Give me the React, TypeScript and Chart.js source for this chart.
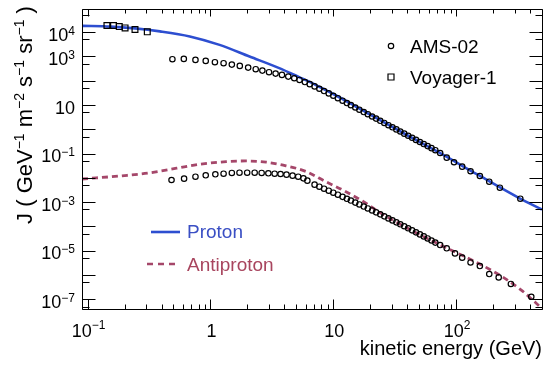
import React, { useEffect, useRef } from "react";
import { Chart, registerables } from "chart.js";

Chart.register(...registerables);

// ---------------- data ----------------
const voyagerEnergy = [0.1436, 0.1625, 0.181, 0.2018, 0.243, 0.306];
const voyagerFlux = [1.87e4, 1.87e4, 1.7e4, 1.5e4, 1.28e4, 1.03e4];

const amsProtonEnergy = [
  0.49, 0.607, 0.755, 0.915, 1.087, 1.279, 1.493, 1.733, 2.027, 2.336, 2.646, 2.998, 3.39, 3.82, 4.3, 4.81,
  5.31, 5.87, 6.43, 7.04, 7.7, 8.41, 9.18, 10.0, 10.9, 11.9, 12.9, 13.9, 15.1, 16.3, 17.7, 19.1, 20.7, 22.3,
  24.1, 26.0, 28.1, 30.3, 32.6, 35.1, 37.8, 40.7, 43.8, 47.1, 50.7, 54.5, 58.6, 63.0, 67.7, 74.1, 83.8, 96.1,
  112, 131, 156, 186, 227, 333,
];
const amsProtonFlux = [
  773, 794, 723, 657, 581, 528, 463, 409, 348, 299, 262, 225, 197, 174, 148, 127, 108, 88.4, 72.3, 58.4, 46.9,
  37.6, 30.1, 24.1, 19.1, 15.1, 12.1, 9.91, 7.92, 6.44, 5.15, 4.2, 3.38, 2.77, 2.24, 1.83, 1.48, 1.21, 0.991,
  0.812, 0.665, 0.545, 0.447, 0.367, 0.301, 0.248, 0.204, 0.168, 0.138, 0.106, 0.0681, 0.044, 0.029, 0.01875,
  0.012, 0.00698, 0.00395, 0.00139,
];

const amsAntiprotonEnergy = [
  0.482, 0.61, 0.755, 0.915, 1.096, 1.279, 1.493, 1.723, 1.99, 2.29, 2.61, 2.96, 3.33, 3.72, 4.16, 4.66, 5.18,
  5.71, 6.15, 7.04, 7.7, 8.41, 9.18, 10.0, 10.9, 11.9, 12.9, 13.9, 15.1, 16.3, 17.7, 19.1, 20.7, 22.3, 24.1,
  26.0, 28.1, 30.3, 32.6, 35.1, 37.8, 40.7, 43.8, 47.1, 50.7, 54.5, 58.6, 63.0, 67.7, 74.1, 83.8, 97.9, 112,
  131, 156, 186, 222, 279, 409,
];
const amsAntiprotonFlux = [
  8.2e-3, 9.3e-3, 0.0112, 0.0128, 0.0141, 0.0149, 0.016, 0.0164, 0.0164, 0.0164, 0.016, 0.0155, 0.0149, 0.0145,
  0.0136, 0.0124, 0.0112, 9.6e-3, 7.7e-3, 5.27e-3, 4.35e-3, 3.6e-3, 2.97e-3, 2.46e-3, 2.03e-3, 1.66e-3, 1.38e-3,
  1.17e-3, 9.62e-4, 8.05e-4, 6.62e-4, 5.53e-4, 4.56e-4, 3.81e-4, 3.15e-4, 2.61e-4, 2.15e-4, 1.78e-4, 1.48e-4,
  1.23e-4, 1.02e-4, 8.4e-5, 6.94e-5, 5.74e-5, 4.72e-5, 3.9e-5, 3.21e-5, 2.64e-5, 2.17e-5, 1.72e-5, 1.26e-5,
  7.8e-6, 5.2e-6, 3.3e-6, 2.35e-6, 1.1e-6, 8.0e-7, 4.3e-7, 1.28e-7,
];

const protonModelEnergy = [0.09, 0.153, 0.243, 0.388, 0.679, 1.187, 2.08, 3.63, 5.27, 6.36, 8.0, 10, 14, 20, 40, 71.8, 150, 329, 500];
const protonModelFlux = [1.82e4, 1.7e4, 1.43e4, 1.08e4, 6.7e3, 3.0e3, 990, 330, 141, 92, 51, 28.5, 11.2, 4.0, 0.57, 0.115, 0.0135, 1.44e-3, 5.0e-4];

const antiprotonModelEnergy = [0.09, 0.2, 0.322, 0.53, 0.818, 1.345, 1.953, 2.84, 4.12, 5.98, 8.68, 12.2, 17.1, 25, 40, 74.1, 161, 249, 339, 436, 500];
const antiprotonModelFlux = [9.0e-3, 0.0125, 0.0162, 0.025, 0.0365, 0.0466, 0.0498, 0.0445, 0.0315, 0.0185, 7.0e-3, 3.0e-3, 1.15e-3, 3.3e-4, 8.6e-5, 1.75e-5, 2.6e-6, 7.3e-7, 2.4e-7, 7.9e-8, 4.2e-8];

const xTickValues = [0.1, 1, 10, 100];
const xTickBase = ["10", "1", "10", "10"];
const xTickExp = ["−1", "", "", "2"];
const yTickValues = [1e4, 1e3, 10, 1e-1, 1e-3, 1e-5, 1e-7];
const yTickBase = ["10", "10", "10", "10", "10", "10", "10"];
const yTickExp = ["4", "3", "", "−1", "−3", "−5", "−7"];

const xTitle = "kinetic energy (GeV)";
const yTitleParts: [string, boolean][] = [
  ["J ( GeV", false], ["−1", true], [" m", false], ["−2", true], [" s", false], ["−1", true], [" sr", false], ["−1", true], [" )", false],
];

const seriesNames = ["AMS-02", "Voyager-1", "Proton", "Antiproton"];

const FONT = '"Liberation Sans", Arial, sans-serif';
const BLUE = "#2d4ed0";
const ROSE = "#a5476a";

const pts = (xs: number[], ys: number[]) => xs.map((x, i) => ({ x, y: ys[i] }));

function drawSupLabel(
  ctx: CanvasRenderingContext2D, x: number, y: number, base: string, sup: string,
  align: "right" | "center" | "left", baseSize: number, supSize: number, raise: number
) {
  ctx.font = `${baseSize}px ${FONT}`;
  const wb = ctx.measureText(base).width;
  ctx.font = `${supSize}px ${FONT}`;
  const ws = sup ? ctx.measureText(sup).width : 0;
  const total = wb + ws;
  let start = x;
  if (align === "right") start = x - total;
  else if (align === "center") start = x - total / 2;
  ctx.textAlign = "left";
  ctx.textBaseline = "alphabetic";
  ctx.font = `${baseSize}px ${FONT}`;
  ctx.fillText(base, start, y);
  if (sup) {
    ctx.font = `${supSize}px ${FONT}`;
    ctx.fillText(sup, start + wb, y - raise);
  }
}

const framePlugin = {
  id: "rootFrame",
  afterDraw(chart: any) {
    const { ctx, chartArea: a, scales } = chart;
    const xs = scales.x;
    const ys = scales.y;
    const L = Math.round(a.left) + 0.5;
    const R = Math.round(a.right) + 0.5;
    const T = Math.round(a.top) + 0.5;
    const B = Math.round(a.bottom) + 0.5;
    ctx.save();
    ctx.strokeStyle = "#000";
    ctx.lineWidth = 1;
    ctx.beginPath();
    ctx.rect(L, T, R - L, B - T);
    // x ticks (inward, bottom and top)
    for (let d = -2; d <= 3; d++) {
      for (let m = 1; m <= 9; m++) {
        const v = m * Math.pow(10, d);
        if (v < xs.min || v > xs.max) continue;
        const px = Math.round(xs.getPixelForValue(v)) + 0.5;
        const lb = m === 1 ? 10 : 5;
        const lt = m === 1 ? 7 : 4;
        ctx.moveTo(px, B);
        ctx.lineTo(px, B - lb);
        ctx.moveTo(px, T);
        ctx.lineTo(px, T + lt);
      }
    }
    // y ticks (inward, left and right)
    for (let d = -9; d <= 5; d++) {
      for (const m of [1, 5]) {
        const v = m * Math.pow(10, d);
        if (v < ys.min || v > ys.max) continue;
        const py = Math.round(ys.getPixelForValue(v)) + 0.5;
        const len = m === 1 ? 13 : 7;
        ctx.moveTo(L, py);
        ctx.lineTo(L + len, py);
        ctx.moveTo(R, py);
        ctx.lineTo(R - len, py);
      }
    }
    ctx.stroke();

    // tick labels
    ctx.fillStyle = "#000";
    xTickValues.forEach((v, i) => {
      const px = xs.getPixelForValue(v);
      drawSupLabel(ctx, px + 1, 337, xTickBase[i], xTickExp[i], "center", 18, 12, 8);
    });
    yTickValues.forEach((v, i) => {
      const py = ys.getPixelForValue(v);
      drawSupLabel(ctx, 75, py + 8.5, yTickBase[i], yTickExp[i], "right", 18, 12, 6);
    });

    // x title
    ctx.font = `20px ${FONT}`;
    ctx.textAlign = "right";
    ctx.textBaseline = "alphabetic";
    ctx.fillText(xTitle, a.right, 355);

    // y title (rotated)
    ctx.save();
    ctx.translate(32, 115);
    ctx.rotate(-Math.PI / 2);
    let total = 0;
    const widths = yTitleParts.map(([t, s]) => {
      ctx.font = `${s ? 14 : 22}px ${FONT}`;
      const w = ctx.measureText(t).width;
      total += w;
      return w;
    });
    let cx = -total / 2;
    ctx.textAlign = "left";
    yTitleParts.forEach(([t, s], i) => {
      ctx.font = `${s ? 14 : 22}px ${FONT}`;
      ctx.fillText(t, cx, s ? -8 : 0);
      cx += widths[i];
    });
    ctx.restore();

    // legend: markers
    ctx.font = `19px ${FONT}`;
    ctx.textAlign = "left";
    ctx.fillStyle = "#000";
    ctx.lineWidth = 1.2;
    ctx.beginPath();
    ctx.arc(391, 46, 2.7, 0, Math.PI * 2);
    ctx.stroke();
    ctx.fillText(seriesNames[0], 410, 53);
    ctx.beginPath();
    ctx.rect(388, 74, 6, 6);
    ctx.stroke();
    ctx.fillText(seriesNames[1], 410, 84);

    // legend: curves
    ctx.strokeStyle = BLUE;
    ctx.lineWidth = 2.6;
    ctx.beginPath();
    ctx.moveTo(151, 232);
    ctx.lineTo(180, 232);
    ctx.stroke();
    ctx.fillStyle = "#3a4fc4";
    ctx.fillText(seriesNames[2], 187, 238);
    ctx.strokeStyle = ROSE;
    ctx.setLineDash([6, 5]);
    ctx.beginPath();
    ctx.moveTo(147, 264);
    ctx.lineTo(177, 264);
    ctx.stroke();
    ctx.setLineDash([]);
    ctx.fillStyle = "#a8455e";
    ctx.fillText(seriesNames[3], 187, 271);
    ctx.restore();
  },
};

export default function App() {
  const ref = useRef<HTMLCanvasElement | null>(null);
  useEffect(() => {
    document.body.style.margin = "0";
    const canvas = ref.current;
    if (!canvas) return;
    const chart = new Chart(canvas, {
      type: "line",
      data: {
        datasets: [
          {
            label: seriesNames[0] + " p",
            data: pts(amsProtonEnergy, amsProtonFlux),
            showLine: false,
            pointStyle: "circle",
            pointRadius: 2.7,
            pointBorderWidth: 1.2,
            pointBorderColor: "#000",
            pointBackgroundColor: "rgba(0,0,0,0)",
            order: 0,
          },
          {
            label: seriesNames[0] + " pbar",
            data: pts(amsAntiprotonEnergy, amsAntiprotonFlux),
            showLine: false,
            pointStyle: "circle",
            pointRadius: 2.7,
            pointBorderWidth: 1.2,
            pointBorderColor: "#000",
            pointBackgroundColor: "rgba(0,0,0,0)",
            order: 0,
          },
          {
            label: seriesNames[1],
            data: pts(voyagerEnergy, voyagerFlux),
            showLine: false,
            pointStyle: "rect",
            pointRadius: 4.1,
            pointBorderWidth: 1.2,
            pointBorderColor: "#000",
            pointBackgroundColor: "rgba(0,0,0,0)",
            order: 0,
          },
          {
            label: seriesNames[2],
            data: pts(protonModelEnergy, protonModelFlux),
            borderColor: BLUE,
            borderWidth: 2.6,
            pointRadius: 0,
            cubicInterpolationMode: "monotone",
            fill: false,
            order: 1,
          },
          {
            label: seriesNames[3],
            data: pts(antiprotonModelEnergy, antiprotonModelFlux),
            borderColor: ROSE,
            borderWidth: 2.8,
            borderDash: [6, 4],
            pointRadius: 0,
            cubicInterpolationMode: "monotone",
            fill: false,
            order: 1,
          },
        ],
      },
      options: {
        responsive: false,
        animation: false,
        devicePixelRatio: 1,
        parsing: true,
        layout: { padding: { left: 82, right: 8, top: 9, bottom: 59 } },
        plugins: { legend: { display: false }, tooltip: { enabled: false } },
        scales: {
          x: { type: "logarithmic", min: 0.09, max: 500, display: false },
          y: { type: "logarithmic", min: 4e-8, max: 9e4, display: false },
        },
      },
      plugins: [framePlugin],
    } as any);
    return () => chart.destroy();
  }, []);
  return <canvas ref={ref} width={550} height={368} style={{ display: "block" }} />;
}
